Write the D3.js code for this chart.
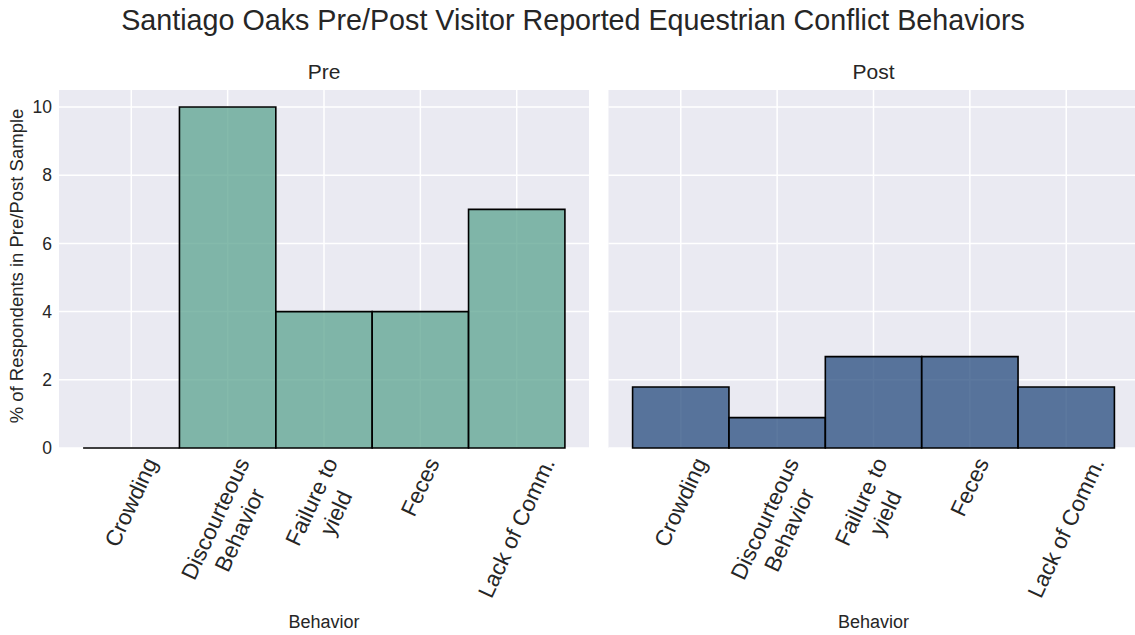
<!DOCTYPE html>
<html>
<head>
<meta charset="utf-8">
<script src="https://cdn.jsdelivr.net/npm/d3@7"></script>
<style>
  body { margin: 0; background: #fff; }
  text { font-family: "Liberation Sans", Arial, sans-serif; fill: #262626; }
</style>
</head>
<body>
<div id="chart"></div>
<script>
// Chart data
const categories = ["Crowding", "Discourteous Behavior", "Failure to yield", "Feces", "Lack of Comm."];
const tickLabels = [["Crowding"], ["Discourteous", "Behavior"], ["Failure to", "yield"], ["Feces"], ["Lack of Comm."]];
const preValues = [0, 10, 4, 4, 7];
const postValues = [1.79, 0.89, 2.68, 2.68, 1.79];
const yTicks = [0, 2, 4, 6, 8, 10];
const panelNames = ["Pre", "Post"];

const W = 1135, H = 635;
let svg = d3.select("#chart").append("svg")
	.attr("width", W)
	.attr("height", H);

// Shared layout of the two facets
let plotTop = 90, plotBottom = 448, panelW = 530;
let panelLeft = [59, 608.5];
let panelColor = ["#5ba38f", "#254b7e"];
let panelData = [preValues, postValues];

let y = d3.scaleLinear()
	.domain([0, 10.5])
	.range([plotBottom, plotTop]);

let x = d3.scaleBand()
	.domain(categories)
	.range([0, panelW])
	.paddingInner(0)
	.paddingOuter(0.25);

// Figure title
svg.append("text")
	.attr("x", 573)
	.attr("y", 30)
	.style("text-anchor", "middle")
	.style("font-size", "28.7px")
	.text("Santiago Oaks Pre/Post Visitor Reported Equestrian Conflict Behaviors");

// Y axis label (only on first facet)
svg.append("text")
	.attr("transform", "translate(23," + ((plotTop + plotBottom) / 2 - 3) + ") rotate(-90)")
	.style("text-anchor", "middle")
	.style("font-size", "18.5px")
	.text("% of Respondents in Pre/Post Sample");

panelNames.forEach((name, p) => {
	let g = svg.append("g")
		.attr("transform", "translate(" + panelLeft[p] + ",0)");

	// background
	g.append("rect")
		.attr("x", 0)
		.attr("y", plotTop)
		.attr("width", panelW)
		.attr("height", plotBottom - plotTop)
		.attr("fill", "#eaeaf2");

	// horizontal grid
	g.selectAll(".hgrid")
		.data(yTicks)
		.enter().append("line")
		.attr("x1", 0)
		.attr("x2", panelW)
		.attr("y1", d => y(d))
		.attr("y2", d => y(d))
		.attr("stroke", "#fff")
		.attr("stroke-width", 1.5);

	// vertical grid at category centres
	g.selectAll(".vgrid")
		.data(categories)
		.enter().append("line")
		.attr("x1", d => x(d) + x.bandwidth() / 2)
		.attr("x2", d => x(d) + x.bandwidth() / 2)
		.attr("y1", plotTop)
		.attr("y2", plotBottom)
		.attr("stroke", "#fff")
		.attr("stroke-width", 1.5);

	// bars drawn as paths so that a zero bar still shows its edge
	g.selectAll(".bar")
		.data(panelData[p])
		.enter().append("path")
		.attr("d", (d, i) => {
			let x0 = x(categories[i]), x1 = x0 + x.bandwidth();
			return "M" + x0 + "," + y(0) + "V" + y(d) + "H" + x1 + "V" + y(0) + "Z";
		})
		.attr("fill", panelColor[p])
		.attr("fill-opacity", 0.75)
		.attr("stroke", "#000")
		.attr("stroke-width", 1.6)
		.attr("stroke-linejoin", "miter");

	// y tick labels only on first facet
	if (p === 0) {
		g.selectAll(".ytick")
			.data(yTicks)
			.enter().append("text")
			.attr("x", -7)
			.attr("y", d => y(d))
			.attr("dy", "0.35em")
			.style("text-anchor", "end")
			.style("font-size", "17.5px")
			.text(d => d);
	}

	// facet title
	g.append("text")
		.attr("x", panelW / 2)
		.attr("y", 79)
		.style("text-anchor", "middle")
		.style("font-size", "21px")
		.text(name);

	// rotated x tick labels, centred under the tick, top aligned
	let angle = -65, rad = angle * Math.PI / 180;
	categories.forEach((c, i) => {
		let tx = x(c) + x.bandwidth() / 2;
		let t = g.append("text")
			.style("text-anchor", "middle")
			.style("font-size", "22.5px");
		tickLabels[i].forEach((line, k) => {
			t.append("tspan")
				.attr("x", 0)
				.attr("dy", k === 0 ? 0 : "1.2em")
				.text(line);
		});
		let bb = t.node().getBBox();
		let corners = [[bb.x, bb.y], [bb.x + bb.width, bb.y], [bb.x, bb.y + bb.height], [bb.x + bb.width, bb.y + bb.height]]
			.map(([a, b]) => [a * Math.cos(rad) - b * Math.sin(rad), a * Math.sin(rad) + b * Math.cos(rad)]);
		let minX = d3.min(corners, d => d[0]), maxX = d3.max(corners, d => d[0]);
		let minY = d3.min(corners, d => d[1]);
		let dx = tx - (minX + maxX) / 2;
		let dy = 454 - minY;
		t.attr("transform", "translate(" + dx + "," + dy + ") rotate(" + angle + ")");
	});

	// x axis label
	g.append("text")
		.attr("x", panelW / 2)
		.attr("y", 628)
		.style("text-anchor", "middle")
		.style("font-size", "18px")
		.text("Behavior");
});
</script>
</body>
</html>
